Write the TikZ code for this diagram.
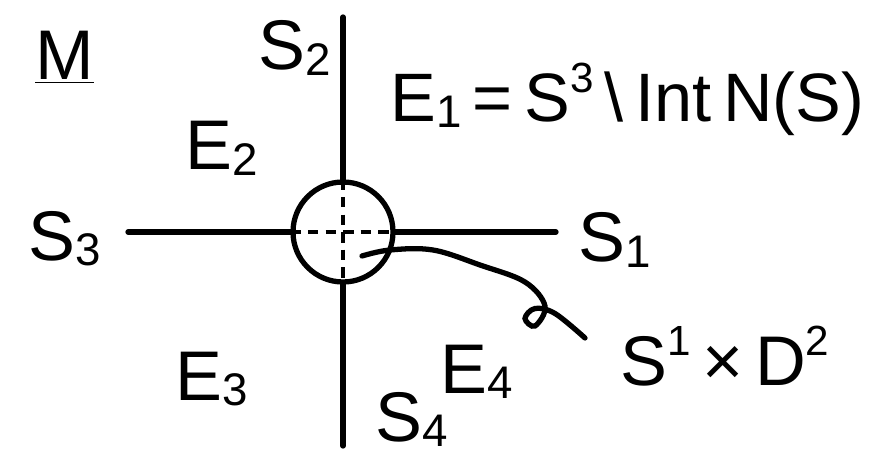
\documentclass[tikz,border=0pt]{standalone}
\usepackage{fontspec}
\setmainfont{Liberation Sans}
\usepackage{tikz}
\usetikzlibrary{positioning}
\newcommand{\sub}[2]{#1\raisebox{-3pt}{\fontsize{26}{26}\selectfont#2}}
\newcommand{\sups}[2]{#1\raisebox{17pt}{\fontsize{24}{24}\selectfont#2}}

\begin{document}
\begin{tikzpicture}[
  font=\fontsize{40}{46}\selectfont,
  lbl/.style={inner sep=0pt,anchor=base west},
  stroke/.style={line width=3pt,line cap=round},
  dashline/.style={line width=2.6pt,dash pattern=on 6pt off 4pt}
]
  \useasboundingbox (0,0) rectangle (17.5,9.12);

  % cross and tubular neighbourhood
  \coordinate (ctr) at (6.86,4.48);
  \coordinate (top) at (6.86,8.78);
  \coordinate (bot) at (6.86,0.2);
  \coordinate (lft) at (2.56,4.48);
  \coordinate (rgt) at (11.12,4.48);
  \node[circle,draw,line width=3pt,minimum size=2.0cm,inner sep=0pt] (nbhd) at (ctr) {};
  \draw[stroke] (top) -- (nbhd.north);
  \draw[stroke] (nbhd.south) -- (bot);
  \draw[stroke] (lft) -- (nbhd.west);
  \draw[stroke] (nbhd.east) -- (rgt);
  \draw[dashline] (nbhd.north) -- (nbhd.south);
  \draw[dashline] (nbhd.west) -- (nbhd.east);

  % labels
  \node[lbl] (M) at (0.7,7.52) {\underline{M}};
  \node[lbl] (s2) at (5.16,7.72) {\sub{S}{2}};
  \node[lbl,font=\fontsize{39}{44}\selectfont] (e1) at (7.8,6.68)
    {\sub{E}{1}\,=\,\sups{S}{3}\,\textbackslash\,Int\,N(S)};
  \node[lbl] (e2) at (3.7,5.72) {\sub{E}{2}};
  \node[lbl] (s3) at (0.56,3.92) {\sub{S}{3}};
  \node[lbl] (s1) at (11.56,3.88) {\sub{S}{1}};
  \node[lbl] (e3) at (3.5,1.12) {\sub{E}{3}};
  \node[lbl] (e4) at (8.8,1.26) {\sub{E}{4}};
  \node[lbl] (s4) at (7.5,0.3) {\sub{S}{4}};
  \node[lbl] (sd) at (12.4,1.42) {\sups{S}{1}\,×\,\sups{D}{2}};

  % pointer to the solid torus
  \coordinate (tip) at (7.24,4.0);
  \coordinate (tail) at (11.7,2.36);
  \draw[stroke] plot[smooth,tension=0.6] coordinates
    {(tip) (7.8,4.12) (8.66,4.12) (9.6,3.82) (10.5,3.48) (10.9,3.0)
     (10.7,2.6) (10.5,2.75) (10.7,2.95) (11.1,2.85) (tail)};
\end{tikzpicture}
\end{document}
